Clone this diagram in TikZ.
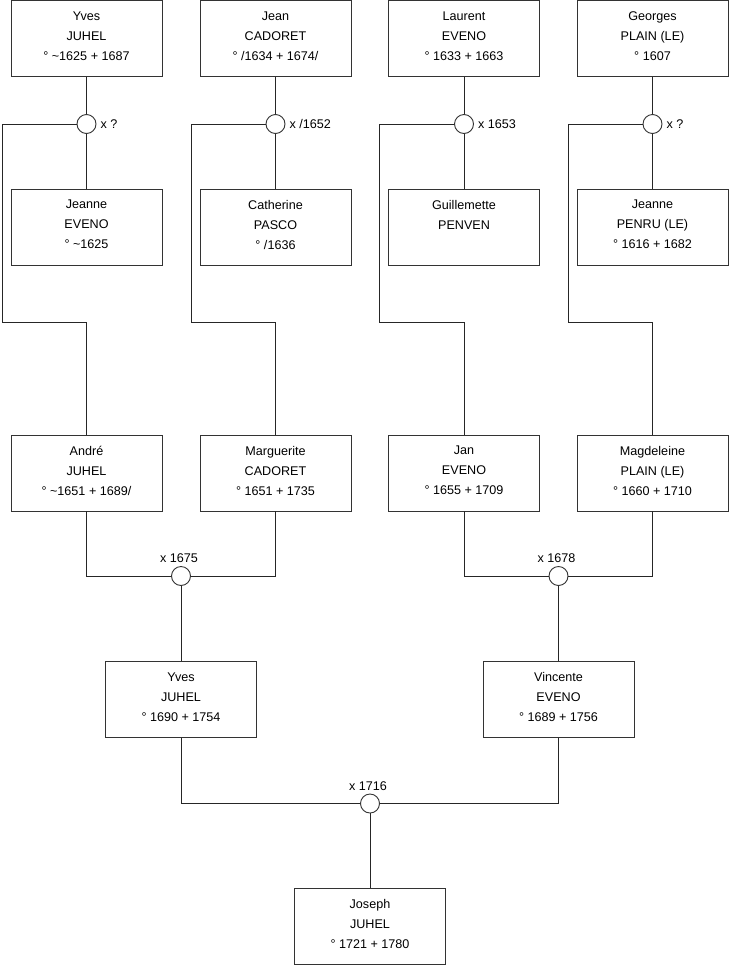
\documentclass[tikz,border=0pt]{standalone}
\usepackage{fontspec}
\setmainfont{Liberation Sans}
\begin{document}
\begin{tikzpicture}[x=1pt,y=-1pt,
  person/.style={draw=black!80, line width=0.9pt, minimum width=151pt, minimum height=76pt,
    inner sep=0pt, align=center, font=\fontsize{12.6}{20}\selectfont, text depth=5pt, fill=white},
  union/.style={circle, draw=black!80, line width=0.9pt, minimum size=19pt, inner sep=0pt, fill=white},
  ulab/.style={font=\fontsize{12.6}{15}\selectfont, inner sep=0pt},
  link/.style={draw=black!85, line width=0.9pt}]
\useasboundingbox (0,0) rectangle (740,975);
% row 1 (fathers)
\node[person] (f1) at (86.5,38.5) {Yves\\JUHEL\\° \textasciitilde1625 + 1687};
\node[person] (f2) at (275.5,38.5) {Jean\\CADORET\\° /1634 + 1674/};
\node[person] (f3) at (464,38.5) {Laurent\\EVENO\\° 1633 + 1663};
\node[person] (f4) at (652.5,38.5) {Georges\\PLAIN (LE)\\° 1607};
% unions row 1
\node[union] (m1) at (86.5,124) {};
\node[union] (m2) at (275.5,124) {};
\node[union] (m3) at (464,124) {};
\node[union] (m4) at (652.5,124) {};
\node[ulab, anchor=west] (lm1) at ([xshift=4pt]m1.east) {x ?};
\node[ulab, anchor=west] (lm2) at ([xshift=4pt]m2.east) {x /1652};
\node[ulab, anchor=west] (lm3) at ([xshift=4pt]m3.east) {x 1653};
\node[ulab, anchor=west] (lm4) at ([xshift=4pt]m4.east) {x ?};
% row 2 (wives)
\node[person] (w1) at (86.5,227) {Jeanne\\EVENO\\° \textasciitilde1625};
\node[person] (w2) at (275.5,227) {Catherine\\PASCO\\° /1636};
\node[person] (w3) at (464,227) {Guillemette\\PENVEN\\\mbox{}};
\node[person] (w4) at (652.5,227) {Jeanne\\PENRU (LE)\\° 1616 + 1682};
% row 3 (children)
\node[person] (c1) at (86.5,473) {André\\JUHEL\\° \textasciitilde1651 + 1689/};
\node[person] (c2) at (275.5,473) {Marguerite\\CADORET\\° 1651 + 1735};
\node[person] (c3) at (464,473) {Jan\\EVENO\\° 1655 + 1709};
\node[person] (c4) at (652.5,473) {Magdeleine\\PLAIN (LE)\\° 1660 + 1710};
% corner coordinates
\coordinate (a1) at (2,124);   \coordinate (b1) at (2,322);
\coordinate (a2) at (191,124); \coordinate (b2) at (191,322);
\coordinate (a3) at (379,124); \coordinate (b3) at (379,322);
\coordinate (a4) at (568,124); \coordinate (b4) at (568,322);
% unions row 3
\node[union] (n1) at (181,576) {};
\node[union] (n2) at (558.5,576) {};
\node[ulab, anchor=south] (ln1) at ([xshift=-2pt,yshift=3pt]n1.north) {x 1675};
\node[ulab, anchor=south] (ln2) at ([xshift=-2pt,yshift=3pt]n2.north) {x 1678};
% row 4
\node[person] (d1) at (181,699.5) {Yves\\JUHEL\\° 1690 + 1754};
\node[person] (d2) at (558.5,699.5) {Vincente\\EVENO\\° 1689 + 1756};
% final union
\node[union] (o) at (370,803.5) {};
\node[ulab, anchor=south] (lo) at ([xshift=-2pt,yshift=3pt]o.north) {x 1716};
\node[person] (j) at (370,926) {Joseph\\JUHEL\\° 1721 + 1780};
% links
\foreach \i in {1,2,3,4}{
  \draw[link] (f\i.south) -- (m\i.north);
  \draw[link] (m\i.south) -- (w\i.north);
  \draw[link] (m\i.west) -- (a\i) -- (b\i) -| (c\i.north);
}
\draw[link] (c1.south) |- (n1.west);
\draw[link] (c2.south) |- (n1.east);
\draw[link] (c3.south) |- (n2.west);
\draw[link] (c4.south) |- (n2.east);
\draw[link] (n1.south) -- (d1.north);
\draw[link] (n2.south) -- (d2.north);
\draw[link] (d1.south) |- (o.west);
\draw[link] (d2.south) |- (o.east);
\draw[link] (o.south) -- (j.north);
\end{tikzpicture}
\end{document}
